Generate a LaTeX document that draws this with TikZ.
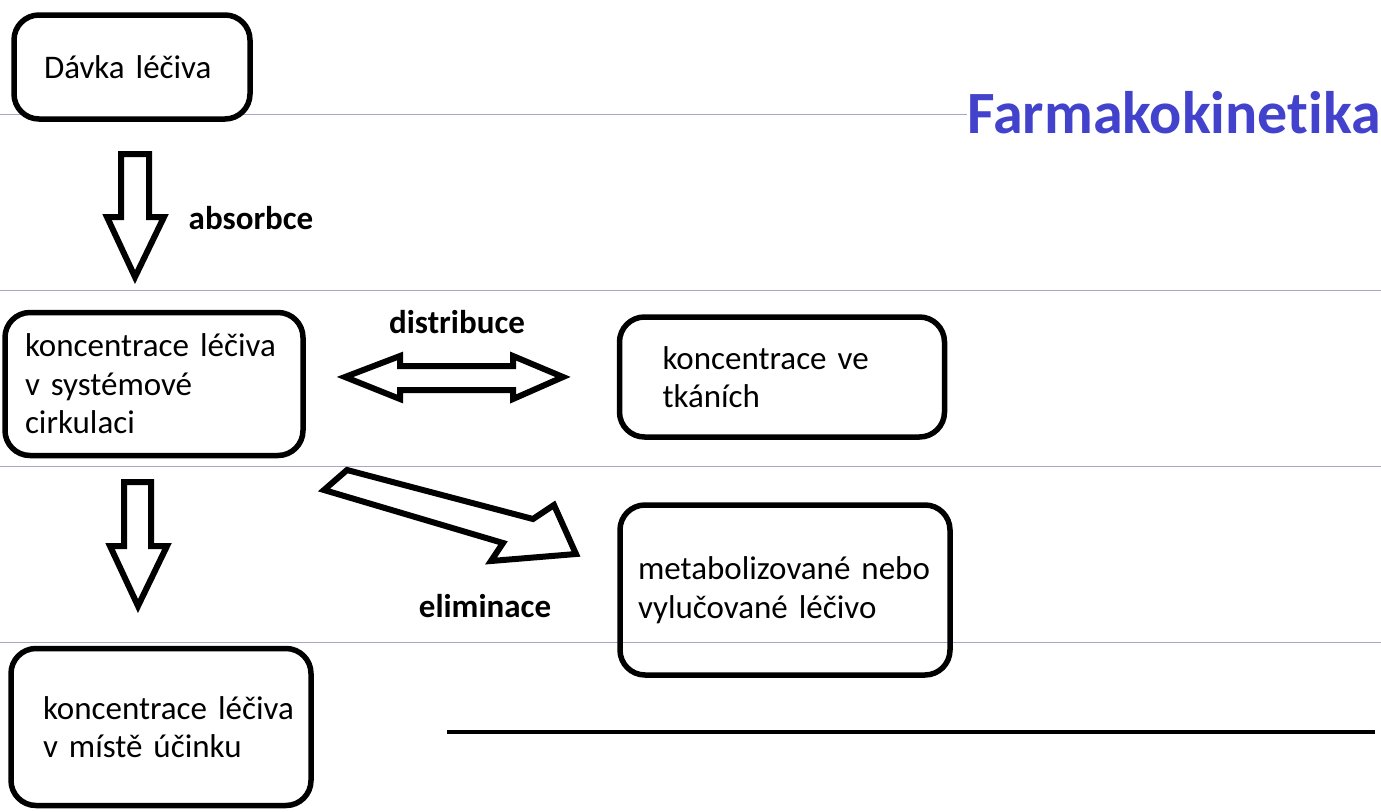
\documentclass[tikz,border=0pt]{standalone}
\usepackage{fontspec}
\setmainfont{Carlito}[Ligatures={NoCommon},WordSpace=0.8]
\definecolor{titleblue}{RGB}{66,66,204}
\definecolor{ruleline}{RGB}{165,165,208}

\begin{document}
\begin{tikzpicture}[x=1pt,y=-1pt,thick,
    box node/.style={draw,line width=5.5pt,rounded corners=25pt,align=left,inner ysep=0pt,font=\fontsize{33}{38.5}\selectfont},
    label node/.style={font=\bfseries\fontsize{33}{36}\selectfont},
    block arrow/.style={draw,line width=6pt,line join=miter},
    rule/.style={draw=ruleline,line width=1pt}]
    \useasboundingbox (0,0) rectangle (1381,811);
    % ruled lines of the page
    \foreach \y in {114,290,466,642}
        \draw[rule] (0,\y) -- (1381,\y);

    \node[box node,fill=white] (dose) at (132,67) [minimum height=104pt,text width=176pt,inner xsep=30pt]{\mbox{D\'avka l\'e\v{c}iva}};
    \node[box node] (plasma) at (154,384) [minimum height=143pt,text width=258pt,inner xsep=20pt]{\mbox{koncentrace l\'e\v{c}iva}\\\mbox{v syst\'emov\'e}\\cirkulaci};
    \node[box node] (tissue) at (782,377) [minimum height=120pt,text width=239pt,inner xsep=43pt]{\mbox{koncentrace ve}\\tk\'an\'ich};
    \node[box node] (elim) at (785,590) [minimum height=170pt,text width=294pt,inner xsep=18pt]{\mbox{metabolizovan\'e nebo}\\\mbox{vylu\v{c}ovan\'e l\'e\v{c}ivo}};
    \node[box node] (site) at (161,727) [minimum height=157pt,text width=236pt,inner xsep=32pt]{\mbox{koncentrace l\'e\v{c}iva}\\\mbox{v m\'ist\v{e} \'u\v{c}inku}};

    \node[font=\bfseries\fontsize{60}{64}\selectfont,text=titleblue,fill=white,inner sep=0pt,anchor=base west] (title) at (967,133) {Farmakokinetika};

    \node[label node] (absorb) at (251,218) {absorbce};
    \node[label node] (distrib) at (457,322) {distribuce};
    \node[label node] (elimlab) at (485,606) {eliminace};

    % block arrows
    \draw[block arrow] (121,154) -- (149,154) -- (149,217) -- (164,217) -- (135,277) -- (107,217) -- (121,217) -- cycle;
    \draw[block arrow] (124,482) -- (151,482) -- (151,546) -- (167,546) -- (138,606) -- (110,546) -- (124,546) -- cycle;
    \draw[block arrow] (345,377) -- (400,356) -- (400,366) -- (513,366) -- (513,356) -- (563,377) -- (513,399) -- (513,390) -- (400,390) -- (400,399) -- cycle;
    \draw[block arrow] (347,470) -- (533,519) -- (554,505) -- (576,554) -- (491,561) -- (503,543) -- (324,490) -- cycle;

    \draw[line width=4.5pt] (447,732) -- (1375,732);
\end{tikzpicture}
\end{document}
